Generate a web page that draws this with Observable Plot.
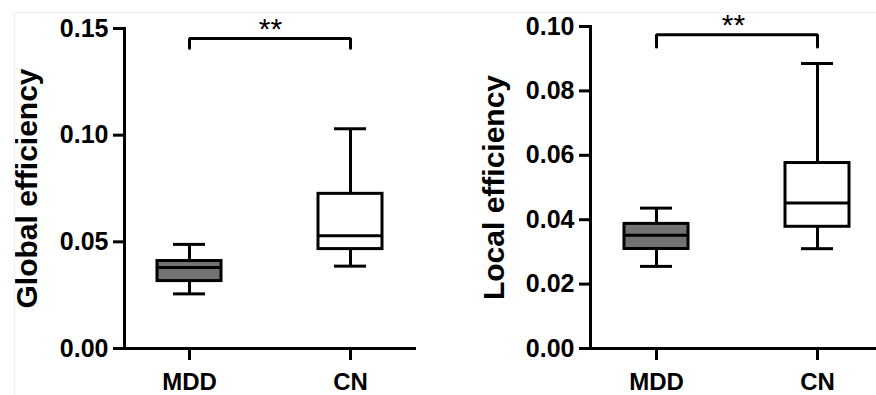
<!DOCTYPE html>
<html><head><meta charset="utf-8">
<script src="https://cdn.jsdelivr.net/npm/d3@7"></script>
<script src="https://cdn.jsdelivr.net/npm/@observablehq/plot@0.6"></script>
<style>
body{margin:0;background:#fff;font-family:"Liberation Sans",Arial,sans-serif;}
#wrap{position:relative;width:876px;height:395px;display:flex;overflow:hidden;background:#fff}
#wrap svg{display:block;flex:none}
#border{position:absolute;left:14px;top:12px;right:-2px;bottom:-2px;border-top:1px solid #eeeeee;border-left:1px solid #eeeeee;pointer-events:none}
</style></head><body><div id="wrap"><div id="border"></div></div>
<script>
const groups = ["MDD", "CN"];
const boxFills = ["#727272", "#ffffff"];

// Global efficiency
const geWhiskerLow  = [0.0256, 0.0386];
const geQ1          = [0.0316, 0.0466];
const geMedian      = [0.0380, 0.0528];
const geQ3          = [0.0410, 0.0725];
const geWhiskerHigh = [0.0488, 0.1030];
const geTicks = [0, 0.05, 0.10, 0.15];
const geBracket = [0.1408, 0.1453, 0.1453, 0.1408];

// Local efficiency
const leWhiskerLow  = [0.0255, 0.0310];
const leQ1          = [0.0309, 0.0378];
const leMedian      = [0.0352, 0.0452];
const leQ3          = [0.0387, 0.0576];
const leWhiskerHigh = [0.0436, 0.0885];
const leTicks = [0, 0.02, 0.04, 0.06, 0.08, 0.10];
const leBracket = [0.0936, 0.0974, 0.0974, 0.0936];

const bracketGroups = ["MDD", "MDD", "CN", "CN"];
const sigLabel = "**";

function panel({label, lo, q1, med, q3, hi, ticks, bracket, yMax, width, marginLeft, marginRight, marginTop, xScale, labelX}) {
  const data = groups.map((g, i) => ({group: g, lo: lo[i], q1: q1[i], med: med[i], q3: q3[i], hi: hi[i], fill: boxFills[i]}));
  const br = bracketGroups.map((g, i) => ({group: g, y: bracket[i]}));
  return Plot.plot({
    width, height: 395,
    marginLeft, marginRight, marginTop, marginBottom: 47,
    style: {fontFamily: "'Liberation Sans', Arial, sans-serif", color: "#000", background: "transparent", overflow: "visible"},
    x: {type: "band", domain: groups, ...xScale, label: null},
    y: {domain: [0, yMax], label: null},
    color: {type: "identity"},
    marks: [
      Plot.axisY({ticks, tickFormat: d3.format(".2f"), tickSize: 11, tickPadding: 5, fontSize: 25, fontWeight: "bold", strokeWidth: 3, label: null}),
      Plot.axisX({tickSize: 12, tickPadding: 12, fontSize: 24, fontWeight: "bold", strokeWidth: 3, label: null}),
      Plot.frame({anchor: "left", strokeWidth: 3}),
      Plot.ruleY([0], {strokeWidth: 3}),
      Plot.ruleX(data, {x: "group", y1: "lo", y2: "hi", strokeWidth: 3}),
      Plot.tickY(data, {x: "group", y: "lo", insetLeft: 16, insetRight: 16, strokeWidth: 3}),
      Plot.tickY(data, {x: "group", y: "hi", insetLeft: 16, insetRight: 16, strokeWidth: 3}),
      Plot.barY(data, {x: "group", y1: "q1", y2: "q3", fill: "fill", stroke: "#000", strokeWidth: 3}),
      Plot.tickY(data, {x: "group", y: "med", strokeWidth: 3}),
      Plot.line(br, {x: "group", y: "y", strokeWidth: 3, strokeLinejoin: "miter"}),
      Plot.text([sigLabel], {y: [bracket[1]], text: d => d, lineAnchor: "bottom", fontSize: 30, fill: "#000"}),
      Plot.text([label], {frameAnchor: "left", textAnchor: "middle", rotate: -90, dx: labelX - marginLeft, text: d => d, lineAnchor: "middle", fontSize: 30, fontWeight: "bold", fill: "#000"})
    ]
  });
}

const wrap = document.getElementById("wrap");
wrap.appendChild(panel({
  label: "Global efficiency", lo: geWhiskerLow, q1: geQ1, med: geMedian, q3: geQ3, hi: geWhiskerHigh,
  ticks: geTicks, bracket: geBracket, yMax: 0.15, width: 436, marginLeft: 124, marginRight: 20, marginTop: 28,
  xScale: {paddingInner: 0.6025, paddingOuter: 0.208, align: 0.49}, labelX: 27
}));
wrap.appendChild(panel({
  label: "Local efficiency", lo: leWhiskerLow, q1: leQ1, med: leMedian, q3: leQ3, hi: leWhiskerHigh,
  ticks: leTicks, bracket: leBracket, yMax: 0.10, width: 440, marginLeft: 154, marginRight: 0, marginTop: 26,
  xScale: {paddingInner: 0.604, paddingOuter: 0.1865, align: 0.552}, labelX: 58
}));
</script>
</body></html>
